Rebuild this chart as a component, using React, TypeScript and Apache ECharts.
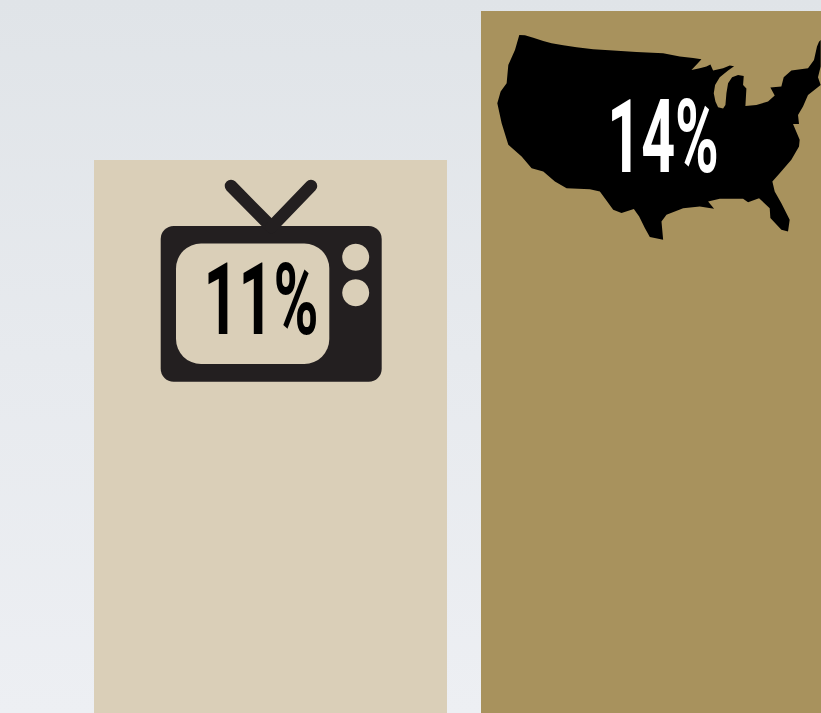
import React, { useEffect, useRef } from "react";
import * as echarts from "echarts";

const categories = ["TV", "US"];
const values = [11, 13.96];
const valueLabels = ["11%", "14%"];
const barColors = ["#dacfb8", "#a8925d"];

const usOutline =
  "M118,105 L135,106 L160,113 L190,123 L215,130 L250,136 L290,142 L340,148 L400,152 L470,156 L550,160 L600,170 L640,174 L665,178 L652,192 L635,210 L660,205 L680,200 L692,194 L700,212 L730,205 L750,197 L763,199 L745,212 L720,232 L706,255 L702,280 L707,305 L715,322 L730,326 L737,315 L740,280 L745,250 L757,232 L775,225 L792,228 L790,255 L800,266 L797,318 L830,315 L865,305 L885,287 L872,263 L905,260 L912,232 L935,212 L985,205 L1003,180 L1012,140 L1018,125 L1023,120 L1023,200 L1015,232 L1023,255 L985,285 L970,320 L955,345 L958,372 L940,372 L960,420 L958,440 L935,480 L900,520 L878,545 L885,575 L905,610 L930,660 L925,695 L905,690 L872,655 L870,625 L838,595 L805,607 L790,597 L720,597 L685,605 L703,627 L660,620 L610,625 L560,645 L545,665 L550,720 L510,712 L495,685 L478,650 L462,628 L425,640 L400,630 L360,575 L330,568 L260,565 L225,545 L190,515 L155,505 L125,470 L85,435 L65,370 L52,310 L62,275 L80,250 L85,195 L105,150 Z";

echarts.graphic.registerShape("usmap", echarts.graphic.extendPath(usOutline, {}));

const INK = "#231f20";

export default function App() {
  const ref = useRef<HTMLDivElement>(null);
  useEffect(() => {
    const chart = echarts.init(ref.current!, undefined, { renderer: "svg" });
    const font = "Roboto, 'Liberation Sans', sans-serif";
    chart.setOption({
      animation: false,
      backgroundColor: {
        type: "linear",
        x: 0,
        y: 0,
        x2: 0,
        y2: 1,
        colorStops: [
          { offset: 0, color: "#e0e4e8" },
          { offset: 0.5, color: "#e7eaee" },
          { offset: 1, color: "#edeff3" },
        ],
      },
      grid: { left: 77, top: 0, width: 774, bottom: 0 },
      xAxis: { type: "category", data: categories, show: false },
      yAxis: { type: "value", min: 0, max: 14.18, show: false },
      series: [
        {
          type: "bar",
          barWidth: 353,
          data: values.map((v, i) => ({ value: v, itemStyle: { color: barColors[i] } })),
        },
      ],
      graphic: [
        { type: "usmap", x: 480, y: 0, scaleX: 1 / 3, scaleY: 1 / 3, z: 10, style: { fill: "#000" } },
        { type: "rect", z: 10, shape: { x: 160.7, y: 226, width: 221, height: 155.7, r: 13 }, style: { fill: INK } },
        { type: "line", z: 10, shape: { x1: 231, y1: 186, x2: 271.5, y2: 227 }, style: { stroke: INK, lineWidth: 12.5, lineCap: "round" } },
        { type: "line", z: 10, shape: { x1: 311, y1: 186, x2: 271.5, y2: 227 }, style: { stroke: INK, lineWidth: 12.5, lineCap: "round" } },
        { type: "rect", z: 11, shape: { x: 176, y: 243.5, width: 153.3, height: 120.5, r: 25 }, style: { fill: barColors[0] } },
        { type: "circle", z: 11, shape: { cx: 355.7, cy: 257.3, r: 13.5 }, style: { fill: barColors[0] } },
        { type: "circle", z: 11, shape: { cx: 355.7, cy: 292.7, r: 13.5 }, style: { fill: barColors[0] } },
        {
          type: "text", z: 12, x: 261, y: 300, scaleX: 0.61, scaleY: 1,
          style: { text: valueLabels[0], fill: "#000", font: `bold 100px ${font}`, align: "center", verticalAlign: "middle" },
        },
        {
          type: "text", z: 12, x: 663, y: 137.5, scaleX: 0.58, scaleY: 1,
          style: { text: valueLabels[1], fill: "#fff", font: `bold 102px ${font}`, align: "center", verticalAlign: "middle" },
        },
      ],
    });
    return () => chart.dispose();
  }, []);
  return (
    <div style={{ position: "absolute", left: 0, top: 0, width: 821, height: 713, overflow: "hidden" }}>
      <div ref={ref} style={{ width: 880, height: 713 }} />
    </div>
  );
}
